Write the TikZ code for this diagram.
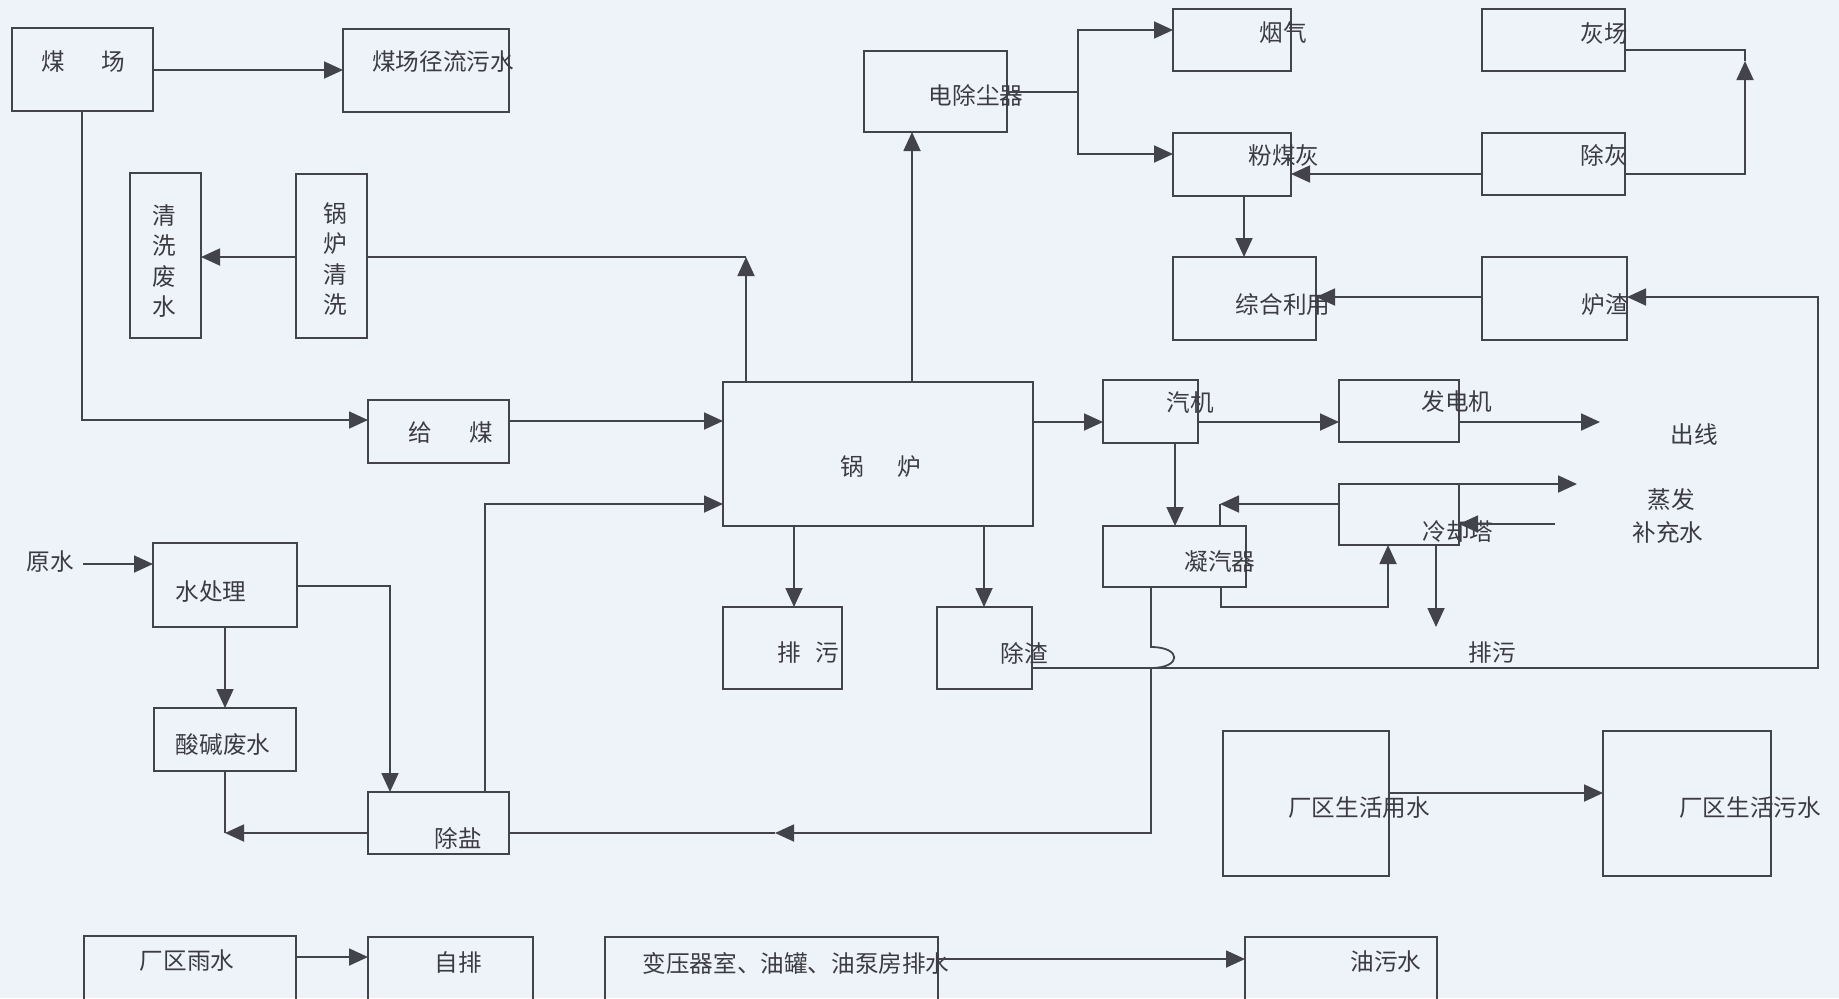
\documentclass[tikz,border=0pt]{standalone}
\usepackage{fontspec}
\newfontfamily\cjk{Noto Sans CJK SC}
\usetikzlibrary{arrows.meta}
\definecolor{bgc}{RGB}{238,243,250}
\definecolor{linec}{RGB}{66,68,74}
\definecolor{textc}{RGB}{60,60,64}
\tikzset{
  box/.style={draw=linec,line width=0.9pt,rectangle,inner sep=0pt,outer sep=0pt},
  txt/.style={font=\cjk\fontsize{11.8}{15.25}\selectfont,text=textc,inner sep=0pt},
  vtxt/.style={txt,align=center},
  ln/.style={draw=linec,line width=0.9pt},
  arr/.style={ln,-{Triangle[length=9.5pt,width=8.5pt]}}
}
\newcommand\bx[5]{\node[box,minimum width={(#4-(#2))*0.5pt},minimum height={(#5-(#3))*0.5pt}] (#1) at ({(#2+#4)/2},{(#3+#5)/2}) {};}
\begin{document}
\begin{tikzpicture}[x=0.5pt,y=-0.5pt]
\useasboundingbox (0,0) rectangle (1839,998);
\clip (0,0) rectangle (1839,998);
\fill[bgc] (0,0) rectangle (1839,998);
% boxes
\bx{coalyard}{12}{28}{153}{111}
\bx{runoff}{343}{29}{509}{112}
\bx{cleanwaste}{130}{173}{201}{338}
\bx{boilerclean}{296}{174}{367}{338}
\bx{esp}{864}{51}{1007}{132}
\bx{flue}{1173}{9}{1291}{71}
\bx{flyash}{1173}{133}{1291}{196}
\bx{ashyard}{1482}{9}{1625}{71}
\bx{ashrem}{1482}{133}{1625}{195}
\bx{util}{1173}{257}{1316}{340}
\bx{slag}{1482}{257}{1627}{340}
\bx{feed}{368}{400}{509}{463}
\bx{boiler}{723}{382}{1033}{526}
\bx{turbine}{1103}{380}{1198}{443}
\bx{gen}{1339}{380}{1459}{442}
\bx{tower}{1339}{484}{1459}{545}
\bx{cond}{1103}{526}{1246}{587}
\bx{blow}{723}{607}{842}{689}
\bx{slagrem}{937}{607}{1032}{689}
\bx{wt}{153}{543}{297}{627}
\bx{acid}{154}{708}{296}{771}
\bx{desalt}{368}{792}{509}{854}
\bx{dom}{1223}{731}{1389}{876}
\bx{domw}{1603}{731}{1771}{876}
\bx{rain}{84}{936}{296}{1008}
\bx{selfd}{368}{937}{533}{1008}
\bx{trans}{605}{937}{938}{1008}
\bx{oil}{1245}{937}{1437}{1008}
% texts
\node[txt] (tcoalyard) at (83,62) {煤\hspace{1.53em}场};
\node[txt] (trunoff) at (443,62) {煤场径流污水};
\node[vtxt] (tcleanwaste) at (164,261) {清\\洗\\废\\水};
\node[vtxt] (tboilerclean) at (335,259) {锅\\炉\\清\\洗};
\node[txt] (tesp) at (976,95) {电除尘器};
\node[txt] (tflue) at (1283,33) {烟气};
\node[txt] (tflyash) at (1284,155) {粉煤灰};
\node[txt] (tashyard) at (1604,33) {灰场};
\node[txt] (tashrem) at (1604,155) {除灰};
\node[txt] (tutil) at (1283,305) {综合利用};
\node[txt] (tslag) at (1605,305) {炉渣};
\node[txt] (tfeed) at (451,433) {给\hspace{1.57em}煤};
\node[txt] (tboiler) at (881,467) {锅\hspace{1.4em}炉};
\node[txt] (tturbine) at (1190,403) {汽机};
\node[txt] (tgen) at (1457,402) {发电机};
\node[txt] (ttower) at (1458,532) {冷却塔};
\node[txt] (tcond) at (1220,562) {凝汽器};
\node[txt] (tblow) at (808,653) {排\hspace{0.6em}污};
\node[txt] (tslagrem) at (1024,653) {除渣};
\node[txt] (twt) at (211,592) {水处理};
\node[txt] (tacid) at (223,745) {酸碱废水};
\node[txt] (tdesalt) at (458,838) {除盐};
\node[txt] (tdom) at (1359,808) {厂区生活用水};
\node[txt] (tdomw) at (1750,808) {厂区生活污水};
\node[txt] (train) at (187,961) {厂区雨水};
\node[txt] (tselfd) at (458,962) {自排};
\node[txt] (ttrans) at (796,963) {变压器室、油罐、油泵房排水};
\node[txt] (toil) at (1386,962) {油污水};
\node[txt] (raw) at (50,562) {原水};
\node[txt] (out) at (1694,434) {出线};
\node[txt] (evap) at (1671,500) {蒸发};
\node[txt] (makeup) at (1668,532) {补充水};
\node[txt] (blow2) at (1492,653) {排污};
% coordinates
\coordinate (c1) at (746,257);
\coordinate (split) at (1078,92);
\coordinate (c2) at (1745,61);
\coordinate (c3) at (1600,422);
\coordinate (c4) at (1577,484);
\coordinate (c5) at (1555,524);
\coordinate (c6) at (1220,504);
\coordinate (c7) at (1436,627);
\coordinate (c8) at (775,833);
\coordinate (c9) at (225,833);
\coordinate (c10) at (83,564);
% connectors
\draw[arr] (coalyard.east |- 0,70) -- (runoff.west |- 0,70);
\draw[arr] (coalyard.south -| 82,0) |- (feed.west |- 0,420);
\draw[arr] (feed.east |- 0,421) -- (boiler.west |- 0,421);
\draw[arr] (boiler.north -| c1) -- (c1);
\draw[ln] (c1) -- (boilerclean.east |- c1);
\draw[arr] (boilerclean.west |- 0,257) -- (cleanwaste.east |- 0,257);
\draw[arr] (boiler.north -| 912,0) -- (esp.south -| 912,0);
\draw[ln] (esp.east |- split) -- (split);
\draw[arr] (split) |- (flue.west |- 0,30);
\draw[arr] (split) |- (flyash.west |- 0,154);
\draw[arr] (ashrem.west |- 0,174) -- (flyash.east |- 0,174);
\draw[arr] (ashrem.east |- 0,174) -| (c2);
\draw[ln] (c2) |- (ashyard.east |- 0,50);
\draw[arr] (flyash.south -| 1244,0) -- (util.north -| 1244,0);
\draw[arr] (slag.west |- 0,297) -- (util.east |- 0,297);
\draw[arr] (slagrem.east |- 0,668) -| (1818,297) -- (slag.east |- 0,297);
\draw[arr] (boiler.east |- 0,422) -- (turbine.west |- 0,422);
\draw[arr] (turbine.east |- 0,422) -- (gen.west |- 0,422);
\draw[arr] (gen.east |- 0,422) -- (c3);
\draw[arr] (turbine.south -| 1175,0) -- (cond.north -| 1175,0);
\draw[arr] (tower.north east) -- (c4);
\draw[arr] (c5) -- (tower.east |- c5);
\draw[arr] (tower.west |- c6) -- (c6);
\draw[ln] (c6) -- (cond.north -| c6);
\draw[arr] (cond.south -| 1221,0) |- (1388,607) -- (tower.south -| 1388,0);
\draw[arr] (tower.south -| c7) -- (c7);
\draw[arr] (boiler.south -| 794,0) -- (blow.north -| 794,0);
\draw[arr] (boiler.south -| 984,0) -- (slagrem.north -| 984,0);
\draw[arr] (cond.south -| 1151,0) -- (1151,647) .. controls (1182,647) and (1182,668) .. (1151,668) -- (1151,833) -- (c8);
\draw[ln] (c8) -- (desalt.east |- c8);
\draw[arr] (wt.south -| 225,0) -- (acid.north -| 225,0);
\draw[arr] (wt.east |- 0,586) -| (desalt.north -| 390,0);
\draw[arr] (desalt.north -| 485,0) |- (boiler.west |- 0,504);
\draw[arr] (desalt.west |- c9) -- (c9);
\draw[ln] (c9) -- (acid.south -| c9);
\draw[arr] (c10) -- (wt.west |- c10);
\draw[arr] (dom.east |- 0,793) -- (domw.west |- 0,793);
\draw[arr] (rain.east |- 0,957) -- (selfd.west |- 0,957);
\draw[arr] (trans.east |- 0,959) -- (oil.west |- 0,959);
\end{tikzpicture}
\end{document}
